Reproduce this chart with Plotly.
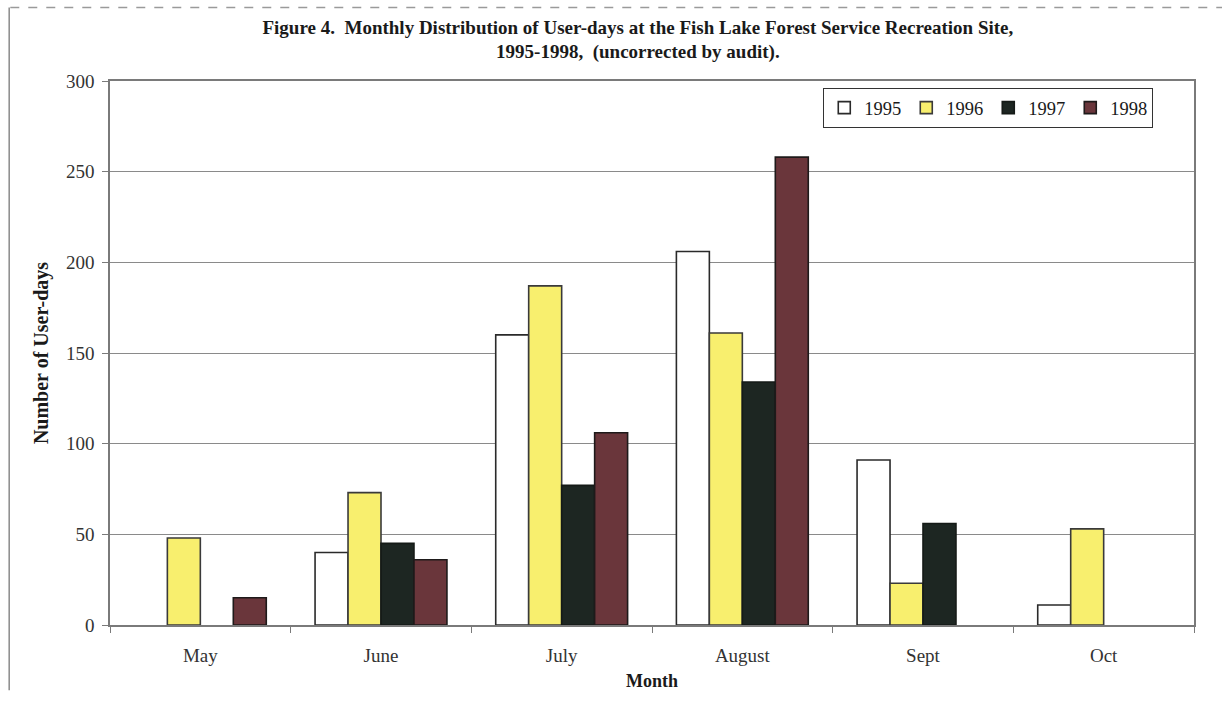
import plotly.graph_objects as go

months = ["May", "June", "July", "August", "Sept", "Oct"]
years = ["1995", "1996", "1997", "1998"]
# None marks a month with no recorded user-days for that year
user_days = {
    "1995": [None, 40, 160, 206, 91, 11],
    "1996": [48, 73, 187, 161, 23, 53],
    "1997": [None, 45, 77, 134, 56, None],
    "1998": [15, 36, 106, 258, None, None],
}
y_ticks = [0, 50, 100, 150, 200, 250, 300]

fills = {"1995": "#ffffff", "1996": "#f8ef6e", "1997": "#1d2622", "1998": "#6a363b"}
edges = {"1995": "#2a2a2a", "1996": "#3a3a3a", "1997": "#151a17", "1998": "#1e1a1a"}

serif = "Liberation Serif, Times New Roman, serif"

fig = go.Figure()
for yr in years:
    fig.add_trace(go.Bar(
        x=months, y=user_days[yr], name=yr,
        marker=dict(color=fills[yr], line=dict(color=edges[yr], width=1.6)),
    ))

fig.update_layout(
    width=1222, height=701,
    margin=dict(l=110, r=28, t=81, b=76),
    paper_bgcolor="white", plot_bgcolor="white",
    barmode="group", bargap=0.27, bargroupgap=0,
    font=dict(family=serif, size=17, color="#333333"),
    title=dict(
        text="<b>Figure 4.  Monthly Distribution of User-days at the Fish Lake Forest Service Recreation Site,<br>1995-1998,  (uncorrected by audit).</b>",
        x=0.522, xanchor="center", y=0.952, yanchor="top",
        font=dict(family=serif, size=19, color="#1a1a1a"),
    ),
    legend=dict(
        orientation="h", x=0.658, xanchor="left", y=0.987, yanchor="top",
        bgcolor="white", bordercolor="#333333", borderwidth=1,
        font=dict(family=serif, size=18.5, color="#1a1a1a"),
        itemwidth=30, traceorder="normal",
    ),
    showlegend=True,
)

fig.update_xaxes(
    title=dict(text="<b>Month</b>", font=dict(family=serif, size=18, color="#1a1a1a"), standoff=10),
    showline=True, linecolor="#7a7a7a", linewidth=1.5, mirror=True,
    ticks="outside", tickson="boundaries", ticklen=6, tickcolor="#7a7a7a",
    ticklabelstandoff=12,
    tickfont=dict(family=serif, size=19, color="#333333"),
    showgrid=False,
)
fig.update_yaxes(
    title=dict(text="<b>Number of User-days</b>", font=dict(family=serif, size=20, color="#1a1a1a"), standoff=12),
    range=[0, 300], tickvals=y_ticks,
    showline=True, linecolor="#7a7a7a", linewidth=1.5, mirror=True,
    ticks="outside", ticklen=6, tickcolor="#7a7a7a",
    ticklabelstandoff=4,
    showgrid=True, gridcolor="#8a8a8a", gridwidth=1.2,
    zeroline=False,
    tickfont=dict(family=serif, size=19, color="#333333"),
)

# page frame lines along the top and left edges
fig.add_shape(type="line", xref="paper", yref="paper", x0=-0.092, x1=1.03, y0=1.135, y1=1.135,
              line=dict(color="#9a9a9a", width=1.5, dash="dash"))
fig.add_shape(type="line", xref="paper", yref="paper", x0=-0.093, x1=-0.093, y0=-0.12, y1=1.135,
              line=dict(color="#8a8a8a", width=1.5))

fig.write_html("out.html")
